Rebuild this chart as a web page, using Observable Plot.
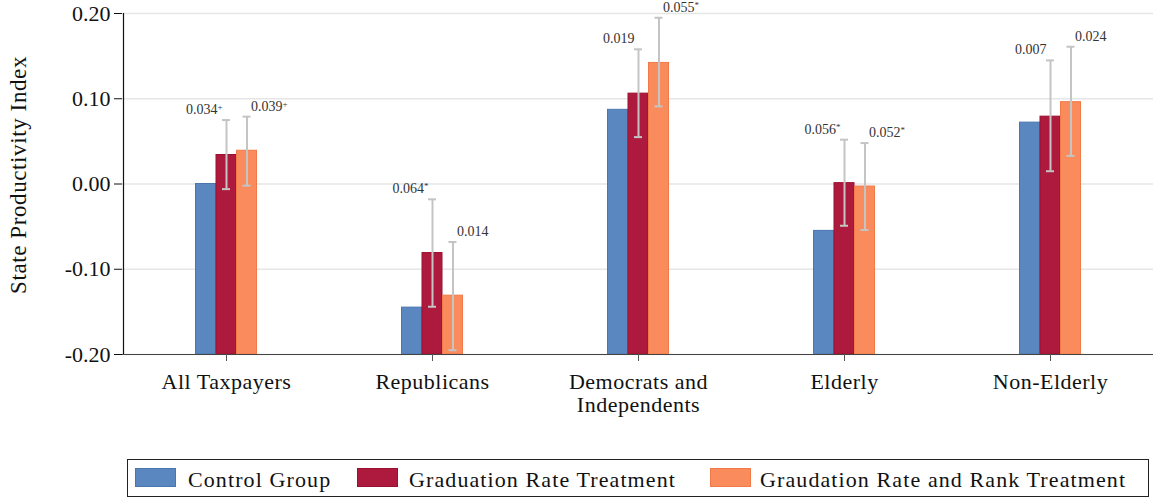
<!DOCTYPE html>
<html>
<head>
<meta charset="utf-8">
<script src="https://cdn.jsdelivr.net/npm/d3@7"></script>
<script src="https://cdn.jsdelivr.net/npm/@observablehq/plot@0.6"></script>
<style>
  html, body { margin: 0; padding: 0; background: #fff; }
  body { width: 1153px; height: 498px; position: relative; overflow: hidden;
         font-family: "Liberation Serif", "Times New Roman", serif; }
  #legend { position: absolute; left: 127px; top: 459px; width: 1020px; height: 36px;
            border: 1px solid #222; background: #fff; }
  #legend .sw { position: absolute; top: 8px; width: 41px; height: 19px; box-sizing: border-box; }
  #legend .lt { position: absolute; top: 9px; font-size: 22px; line-height: 22px;
                color: #111; white-space: nowrap; letter-spacing: 1.1px; }
  #chart svg g[aria-label="x-axis tick label"] text { letter-spacing: 0.5px; }
  #chart svg .ylabel text { letter-spacing: 0.6px; }
</style>
</head>
<body>
<div id="chart"></div>
<div id="legend"></div>
<script>
// Subgroups along the x axis and their printed labels
const groups = ["All Taxpayers", "Republicans", "Democrats and Independents", "Elderly", "Non-Elderly"];
const groupLabels = ["All Taxpayers", "Republicans", "Democrats and\nIndependents", "Elderly", "Non-Elderly"];

// Series
const seriesNames = ["Control Group", "Graduation Rate Treatment", "Graudation Rate and Rank Treatment"];
const seriesFill = ["#5b87c0", "#ae1a3d", "#f98b5c"];
const seriesStroke = ["#4a76b0", "#9a1030", "#f07a48"];

// Control group index value per subgroup
const control = [0.000, -0.145, 0.087, -0.055, 0.072];

// Treatment effects relative to control (as printed) and significance marks
const gradDiff = [0.034, 0.064, 0.019, 0.056, 0.007];
const gradSig = ["+", "*", "", "*", ""];
const rankDiff = [0.039, 0.014, 0.055, 0.052, 0.024];
const rankSig = ["+", "", "*", "*", ""];

// Confidence interval bounds for the treatment arms
const gradLo = [-0.006, -0.144, 0.055, -0.049, 0.015];
const gradHi = [0.075, -0.018, 0.158, 0.052, 0.145];
const rankLo = [-0.002, -0.195, 0.091, -0.054, 0.033];
const rankHi = [0.079, -0.068, 0.195, 0.048, 0.161];

// Y axis ticks
const yTicks = [-0.2, -0.1, 0.0, 0.1, 0.2];

const yMin = -0.2, yMax = 0.2;
const barOffset = [-20.5, 0, 20.5];

const controlRows = groups.map((g, i) => ({group: g, value: control[i]}));
const gradRows = groups.map((g, i) => ({
  group: g, value: +(control[i] + gradDiff[i]).toFixed(3),
  lo: gradLo[i], hi: gradHi[i], label: gradDiff[i].toFixed(3) + gradSig[i]
}));
const rankRows = groups.map((g, i) => ({
  group: g, value: +(control[i] + rankDiff[i]).toFixed(3),
  lo: rankLo[i], hi: rankHi[i], label: rankDiff[i].toFixed(3) + rankSig[i]
}));
const seriesRows = [controlRows, gradRows, rankRows];

const bars = seriesRows.map((rows, s) =>
  Plot.barY(rows, {
    x: "group", y1: yMin, y2: "value",
    fill: seriesFill[s], stroke: seriesStroke[s], strokeWidth: 1,
    dx: barOffset[s], insetLeft: 93, insetRight: 93
  })
);

const errStyle = {stroke: "#c4c4c4", strokeWidth: 2};
const errorBars = [1, 2].flatMap(s => {
  const rows = seriesRows[s];
  return [
    Plot.ruleX(rows, {x: "group", y1: "lo", y2: "hi", dx: barOffset[s], ...errStyle}),
    Plot.tickY(rows, {x: "group", y: "lo", dx: barOffset[s], insetLeft: 99, insetRight: 99, ...errStyle}),
    Plot.tickY(rows, {x: "group", y: "hi", dx: barOffset[s], insetLeft: 99, insetRight: 99, ...errStyle})
  ];
});

const chart = Plot.plot({
  width: 1153,
  height: 452,
  marginLeft: 122,
  marginRight: 0,
  marginTop: 13,
  marginBottom: 98,
  style: {fontFamily: "'Liberation Serif', 'Times New Roman', serif", fontSize: "22px", color: "#111", background: "#fff"},
  x: {domain: groups, padding: 0},
  y: {domain: [yMin, yMax]},
  marks: [
    Plot.gridY(yTicks, {stroke: "#e6e6e6", strokeOpacity: 1, strokeWidth: 1.5}),
    ...bars,
    Plot.ruleY([yMin], {stroke: "#444", strokeWidth: 1.2}),
    ...errorBars,
    Plot.text(gradRows, {
      x: "group", y: "hi", text: "label", textAnchor: "end", lineAnchor: "bottom",
      dx: barOffset[1] - 4, dy: -6, fontSize: 14, fill: "#333"
    }),
    Plot.text(rankRows, {
      x: "group", y: "hi", text: "label", textAnchor: "start", lineAnchor: "bottom",
      dx: barOffset[2] + 4, dy: -6, fontSize: 14, fill: "#333"
    }),
    Plot.axisY(yTicks, {
      tickFormat: d => d.toFixed(2), tickSize: 8, tickPadding: 4,
      fontSize: 22, label: null, stroke: "#111"
    }),
    Plot.ruleX([0], {x: () => groups[0], dx: -103, y1: yMin, y2: yMax, stroke: "#111", strokeWidth: 1.2}),
    Plot.axisX({
      tickFormat: d => groupLabels[groups.indexOf(d)],
      tickSize: 7, tickPadding: 11, fontSize: 22, label: null, stroke: "#555", lineHeight: 1.05
    }),
    Plot.text(["State Productivity Index"], {
      frameAnchor: "left", rotate: -90, dx: -104, dy: -9, fontSize: 23, fill: "#111",
      textAnchor: "middle"
    })
  ]
});

// Significance marks as superscripts on the effect labels
d3.select(chart).selectAll("text").each(function() {
  const m = /^(-?\d\.\d{3})([+*])$/.exec(this.textContent);
  if (!m) return;
  const t = d3.select(this);
  t.text(m[1]);
  t.append("tspan").attr("font-size", 9).attr("dy", "-0.45em").text(m[2]);
});

// Tag the axis title group so it can be styled
d3.select(chart).selectAll("text")
  .filter(function() { return this.textContent === "State Productivity Index"; })
  .each(function() { this.parentNode.classList.add("ylabel"); });

document.getElementById("chart").appendChild(chart);

// Legend
const legend = d3.select("#legend");
const swatchLeft = [7, 229, 582];
const textLeft = [60, 281, 632];
seriesNames.forEach((name, s) => {
  legend.append("div").attr("class", "sw")
    .style("left", swatchLeft[s] + "px")
    .style("background", seriesFill[s])
    .style("border", "1px solid " + seriesStroke[s]);
  legend.append("div").attr("class", "lt")
    .style("left", textLeft[s] + "px")
    .text(name);
});
</script>
</body>
</html>
